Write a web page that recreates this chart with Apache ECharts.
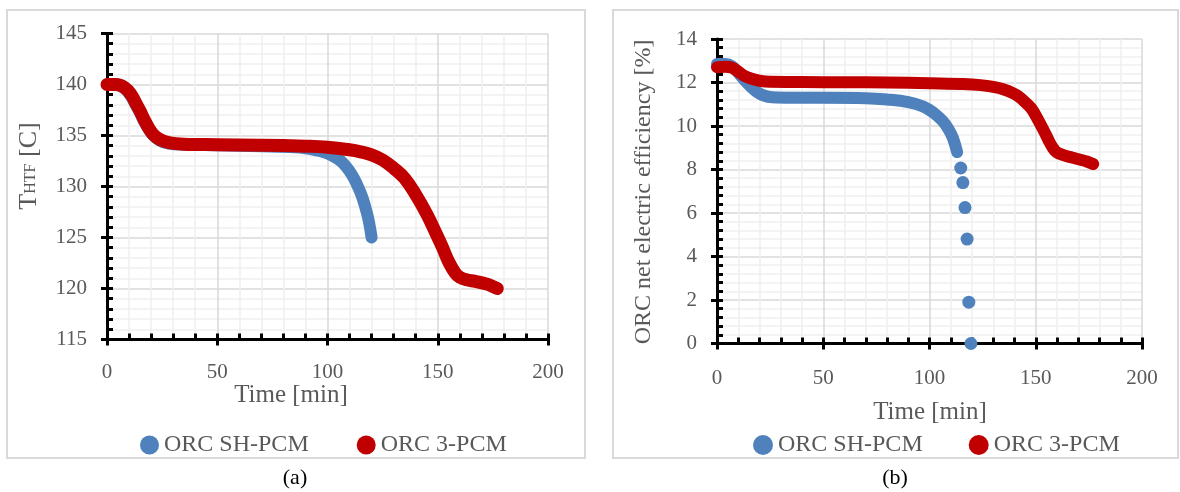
<!DOCTYPE html>
<html>
<head>
<meta charset="utf-8">
<script src="https://cdn.jsdelivr.net/npm/echarts@6/dist/echarts.min.js"></script>
<style>
  html, body { margin: 0; padding: 0; background: #fff; }
  #main { width: 1180px; height: 492px; }
</style>
</head>
<body>
<div id="main"></div>
<script>
// (a) HTF temperature
const shTimeA  = [0, 4, 8, 11, 13, 15, 17, 19, 21, 24, 28, 35, 50, 70, 85, 90, 95, 100, 104, 107, 110, 112, 114, 116, 118, 119, 120];
const shTempA  = [140, 140, 139.6, 138.8, 138, 137.2, 136.3, 135.6, 135, 134.5, 134.2, 134.1, 134.05, 133.95, 133.85, 133.75, 133.55, 133.25, 132.8, 132.3, 131.5, 130.8, 129.9, 128.8, 127.3, 126.3, 125];
const pcmTimeA = [0, 4, 8, 11, 13, 15, 17, 19, 21, 24, 28, 35, 50, 70, 90, 100, 110, 115, 120, 125, 130, 135, 140, 145, 149, 152, 155, 158, 160, 163, 167, 171, 174, 177];
const pcmTempA = [140, 140, 139.7, 139, 138.2, 137.4, 136.5, 135.7, 135.1, 134.6, 134.3, 134.15, 134.1, 134.05, 133.95, 133.85, 133.6, 133.4, 133.1, 132.6, 131.8, 130.8, 129.2, 127.3, 125.5, 124.1, 122.6, 121.5, 121.1, 120.85, 120.7, 120.5, 120.3, 120];

// (b) ORC net electric efficiency
const shTimeB  = [0, 4, 7, 10, 13, 16, 19, 22, 26, 35, 50, 70, 80, 90, 97, 102, 106, 109, 111, 113];
const shEffB   = [12.85, 12.85, 12.75, 12.45, 12.1, 11.8, 11.55, 11.4, 11.32, 11.3, 11.3, 11.28, 11.22, 11.1, 10.9, 10.6, 10.25, 9.85, 9.45, 8.8];
const shTailTimeB = [114.7, 115.7, 116.7, 117.7, 118.5, 119.5];
const shTailEffB  = [8.07, 7.4, 6.25, 4.8, 1.9, 0];
const pcmTimeB = [0, 4, 7, 10, 13, 16, 20, 25, 40, 60, 80, 100, 115, 124, 130, 135, 139, 142, 145, 148, 151, 154, 156, 158, 160, 163, 167, 171, 174, 177];
const pcmEffB  = [12.7, 12.72, 12.68, 12.5, 12.3, 12.18, 12.08, 12.03, 12.02, 12.01, 12, 11.97, 11.93, 11.88, 11.8, 11.68, 11.52, 11.35, 11.1, 10.8, 10.3, 9.75, 9.35, 9.0, 8.78, 8.66, 8.55, 8.45, 8.37, 8.25];

const timeTicks = [0, 50, 100, 150, 200];

const zip = (a, b) => a.map((v, i) => [v, b[i]]);

const BLUE = '#4F81BD';
const RED = '#C00000';
const FONT = '"Liberation Serif", "Times New Roman", serif';
const GREY = '#595959';

const grids = [
  { left: 107, top: 33.5, width: 441, height: 306 },
  { left: 717, top: 39, width: 425, height: 304.5 }
];

function mainX(idx, margin) {
  return {
    type: 'value', gridIndex: idx, min: 0, max: 200, interval: 50,
    axisLine: { show: true, onZero: false, lineStyle: { color: '#000', width: 3 } },
    axisTick: { show: true, inside: true, length: 6, lineStyle: { color: '#000', width: 3 } },
    minorTick: { show: true, splitNumber: 5, length: 6, lineStyle: { color: '#000', width: 3 } },
    axisLabel: { margin: margin, color: GREY, fontSize: 21, fontFamily: FONT },
    splitLine: { show: true, lineStyle: { color: '#d9d9d9', width: 1.5 } },
    minorSplitLine: { show: true, lineStyle: { color: '#f0f0f0', width: 1.5 } }
  };
}
function mainY(idx, min, max, interval) {
  return {
    type: 'value', gridIndex: idx, min: min, max: max, interval: interval,
    axisLine: { show: true, onZero: false, lineStyle: { color: '#000', width: 3 } },
    axisTick: { show: true, inside: true, length: 6, lineStyle: { color: '#000', width: 3 } },
    minorTick: { show: true, splitNumber: 5, length: 6, lineStyle: { color: '#000', width: 3 } },
    axisLabel: { margin: 20, color: GREY, fontSize: 21, fontFamily: FONT },
    splitLine: { show: true, lineStyle: { color: '#d9d9d9', width: 1.5 } },
    minorSplitLine: { show: true, lineStyle: { color: '#f0f0f0', width: 1.5 } }
  };
}
// outer half of the major ticks (Excel "cross" ticks)
function crossAxis(idx, min, max, interval) {
  return {
    type: 'value', gridIndex: idx, min: min, max: max, interval: interval,
    axisLine: { show: false },
    axisTick: { show: true, inside: false, length: 6, lineStyle: { color: '#000', width: 3 } },
    axisLabel: { show: false },
    splitLine: { show: false }
  };
}

const chart = echarts.init(document.getElementById('main'));
chart.setOption({
  animation: false,
  backgroundColor: '#fff',
  grid: [grids[0], grids[1], grids[0], grids[1]],
  xAxis: [mainX(0, 22), mainX(1, 24), crossAxis(2, 0, 200, 50), crossAxis(3, 0, 200, 50)],
  yAxis: [mainY(0, 115, 145, 5), mainY(1, 0, 14, 2), crossAxis(2, 115, 145, 5), crossAxis(3, 0, 14, 2)],
  legend: [
    {
      left: 140, top: 433, padding: 0, itemGap: 48, icon: 'circle', itemWidth: 19, itemHeight: 19,
      data: ['ORC SH-PCM', 'ORC 3-PCM'],
      textStyle: { color: GREY, fontSize: 24, fontFamily: FONT }
    },
    {
      left: 753, top: 433, padding: 0, itemGap: 46, icon: 'circle', itemWidth: 20, itemHeight: 20,
      data: ['ORC SH-PCM', 'ORC 3-PCM'],
      textStyle: { color: GREY, fontSize: 24, fontFamily: FONT }
    }
  ],
  graphic: [
    { type: 'rect', silent: true, z: -10, shape: { x: 7, y: 10, width: 578, height: 448 },
      style: { fill: '#fff', stroke: '#d9d9d9', lineWidth: 2 } },
    { type: 'rect', silent: true, z: -10, shape: { x: 613, y: 10, width: 565, height: 448 },
      style: { fill: '#fff', stroke: '#d9d9d9', lineWidth: 2 } },
    { type: 'text', x: 291, y: 395, style: { text: 'Time [min]', font: '25px ' + FONT, fill: GREY, align: 'center', verticalAlign: 'middle' } },
    { type: 'text', x: 930, y: 412, style: { text: 'Time [min]', font: '25px ' + FONT, fill: GREY, align: 'center', verticalAlign: 'middle' } },
    { type: 'text', x: 27, y: 166, rotation: Math.PI / 2,
      style: { text: '{a|T}{b|HTF}{a| [C]}', align: 'center', verticalAlign: 'middle',
        rich: { a: { fontSize: 26, fontFamily: FONT, fill: GREY, lineHeight: 30, verticalAlign: 'bottom' },
                b: { fontSize: 16, fontFamily: FONT, fill: GREY, lineHeight: 30, verticalAlign: 'bottom', padding: [0, 0, 3, 0] } } } },
    { type: 'text', x: 644, y: 192, rotation: Math.PI / 2,
      style: { text: 'ORC net electric efficiency [%]', font: '24px ' + FONT, fill: GREY, align: 'center', verticalAlign: 'middle' } },
    { type: 'text', x: 295, y: 478, style: { text: '(a)', font: '22px ' + FONT, fill: '#000', align: 'center', verticalAlign: 'middle' } },
    { type: 'text', x: 895, y: 478, style: { text: '(b)', font: '22px ' + FONT, fill: '#000', align: 'center', verticalAlign: 'middle' } }
  ],
  series: [
    { name: 'ORC SH-PCM', type: 'line', xAxisIndex: 0, yAxisIndex: 0, data: zip(shTimeA, shTempA),
      smooth: 0.4, showSymbol: false, color: BLUE, lineStyle: { width: 12, color: BLUE, cap: 'round', join: 'round' } },
    { name: 'ORC 3-PCM', type: 'line', xAxisIndex: 0, yAxisIndex: 0, data: zip(pcmTimeA, pcmTempA),
      smooth: 0.4, showSymbol: false, color: RED, lineStyle: { width: 13, color: RED, cap: 'round', join: 'round' } },
    { name: 'ORC SH-PCM', type: 'line', xAxisIndex: 1, yAxisIndex: 1, data: zip(shTimeB, shEffB),
      smooth: 0.4, showSymbol: false, color: BLUE, lineStyle: { width: 12, color: BLUE, cap: 'round', join: 'round' } },
    { name: 'ORC SH-PCM', type: 'scatter', xAxisIndex: 1, yAxisIndex: 1, data: zip(shTailTimeB, shTailEffB),
      symbolSize: 13, itemStyle: { color: BLUE, opacity: 1 } },
    { name: 'ORC 3-PCM', type: 'line', xAxisIndex: 1, yAxisIndex: 1, data: zip(pcmTimeB, pcmEffB),
      smooth: 0.4, showSymbol: false, color: RED, lineStyle: { width: 12, color: RED, cap: 'round', join: 'round' } }
  ]
});
</script>
</body>
</html>
